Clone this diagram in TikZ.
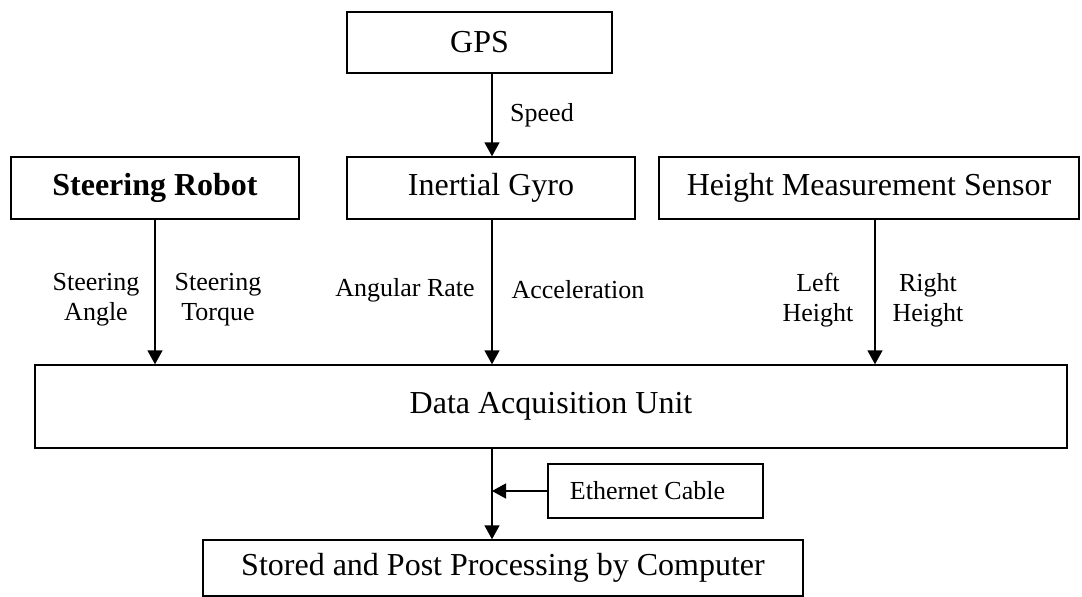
\documentclass[tikz,border=0pt]{standalone}
\usepackage{fontspec}
\setmainfont{Liberation Serif}
\usetikzlibrary{arrows.meta}
\tikzset{
  box/.style={draw, line width=1.4pt, inner sep=0pt, font=\fontsize{32}{36}\selectfont},
  lbl/.style={inner sep=0pt, align=center, font=\fontsize{26}{30}\selectfont},
  arr/.style={line width=1.5pt, -{Triangle[length=14pt,width=15pt]}}
}
\begin{document}
\begin{tikzpicture}[x=1pt,y=-1pt]
\useasboundingbox (0,0) rectangle (1082,597);
% boxes
\node[box, minimum width=265pt, minimum height=61pt] (gps) at (479.5,42.5) {GPS};
\node[box, minimum width=288pt, minimum height=62pt] (robot) at (155,188) {\bfseries Steering Robot};
\node[box, minimum width=288pt, minimum height=62pt] (gyro) at (491,188) {Inertial Gyro};
\node[box, minimum width=420pt, minimum height=62pt] (height) at (869,188) {Height Measurement Sensor};
\node[box, minimum width=1032pt, minimum height=83pt] (daq) at (551,406.5) {Data Acquisition Unit};
\node[box, minimum width=215pt, minimum height=54pt, font=\fontsize{26}{30}\selectfont] (eth) at (655.5,491) {\hspace*{-16pt}Ethernet Cable};
\node[box, minimum width=600pt, minimum height=56pt] (stored) at (503,568) {Stored and Post Processing by Computer};
% connector x positions
\coordinate (xa) at (155,0);
\coordinate (xb) at (492,0);
\coordinate (xc) at (875,0);
% connectors
\draw[arr] (gps.south -| xb) -- (gyro.north -| xb);
\draw[arr] (robot.south -| xa) -- (daq.north -| xa);
\draw[arr] (gyro.south -| xb) -- (daq.north -| xb);
\draw[arr] (height.south -| xc) -- (daq.north -| xc);
\draw[arr] (daq.south -| xb) -- (stored.north -| xb);
\draw[arr] (eth.west) -- (eth.west -| xb);
% labels
\node[lbl] (lspeed) at (542,115) {Speed};
\node[lbl] (lsa) at (96,300) {Steering\\Angle};
\node[lbl] (lst) at (218,300) {Steering\\Torque};
\node[lbl] (lar) at (405,290) {Angular Rate};
\node[lbl] (lacc) at (578,290) {Acceleration};
\node[lbl] (llh) at (818,300) {Left\\Height};
\node[lbl] (lrh) at (928,300) {Right\\Height};
\end{tikzpicture}
\end{document}
